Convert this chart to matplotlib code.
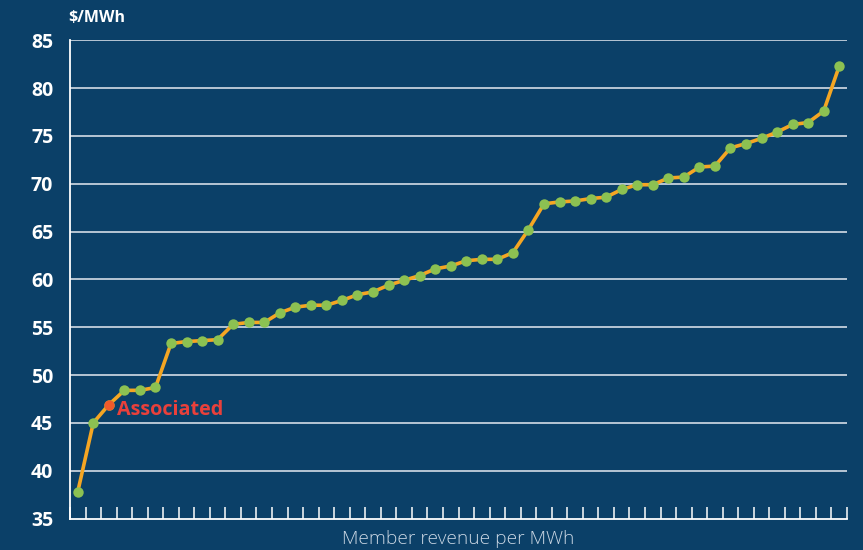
import matplotlib
matplotlib.use("Agg")
import matplotlib.pyplot as plt
import numpy as np

values = [37.8, 45.0, 46.9, 48.4, 48.4, 48.7, 53.3, 53.5, 53.6, 53.7,
          55.3, 55.5, 55.5, 56.5, 57.1, 57.3, 57.3, 57.8, 58.4, 58.7,
          59.4, 59.9, 60.4, 61.1, 61.4, 61.95, 62.1, 62.1, 62.8, 65.2,
          67.9, 68.1, 68.2, 68.45, 68.6, 69.4, 69.9, 69.9, 70.6, 70.7,
          71.75, 71.85, 73.75, 74.2, 74.75, 75.4, 76.2, 76.4, 77.6, 82.3]
highlight_index = 2
highlight_label = "Associated"
y_ticks = [35, 40, 45, 50, 55, 60, 65, 70, 75, 80, 85]
y_unit = "$/MWh"
x_title = "Member revenue per MWh"

BG = "#0b4068"
LINE = "#f5a623"
DOT = "#8cc152"
RED = "#f15a2b"
LABEL_RED = "#e9403b"
GRID = "#c5d1dd"

plt.rcParams['font.family'] = ['Open Sans', 'DejaVu Sans']

fig = plt.figure(figsize=(8.63, 5.5), dpi=100, facecolor=BG)
ax = fig.add_axes([70/863, 1-518.5/550, (847-70)/863, (518.5-40.3)/550])
ax.set_facecolor(BG)

x = np.arange(len(values))
ax.plot(x, values, color=LINE, lw=2.6, zorder=3, solid_joinstyle='round')
ax.plot(x, values, 'o', color=DOT, ms=7.5, mec='none', zorder=4)
ax.plot(x[highlight_index], values[highlight_index], 'o', color=RED, ms=7.5, mec='none', zorder=5)
ax.annotate(highlight_label, (x[highlight_index], values[highlight_index]),
            xytext=(6, -4), textcoords='offset points', ha='left', va='center',
            color=LABEL_RED, fontsize=14.2, fontweight='bold', zorder=6)

ax.set_xlim(-0.5, len(values) - 0.5)
ax.set_ylim(35, 85)
ax.set_yticks(y_ticks)
ax.set_yticklabels([str(v) for v in y_ticks])
for v in y_ticks[1:]:
    ax.axhline(v, color=GRID, lw=1.3, zorder=1)

ax.set_xticks(np.arange(len(values) + 1) - 0.5)
ax.set_xticklabels([])
ax.tick_params(axis='x', direction='in', length=9, width=1.1, color='white')
ax.tick_params(axis='y', length=0, pad=12, labelsize=14, labelcolor='white')
for lab in ax.get_yticklabels():
    lab.set_fontweight('bold')

for s in ['top', 'right']:
    ax.spines[s].set_visible(False)
for s in ['left', 'bottom']:
    ax.spines[s].set_color('white')
    ax.spines[s].set_linewidth(1.3)

fig.text(68/863, 1-18/550, y_unit, color='white', fontsize=11.5, fontweight='bold',
         ha='left', va='center')
ax.set_xlabel(x_title, color='#c9d6e3', fontsize=13.8, fontweight='light', labelpad=5)

fig.savefig("out.png", dpi=100, facecolor=BG)
